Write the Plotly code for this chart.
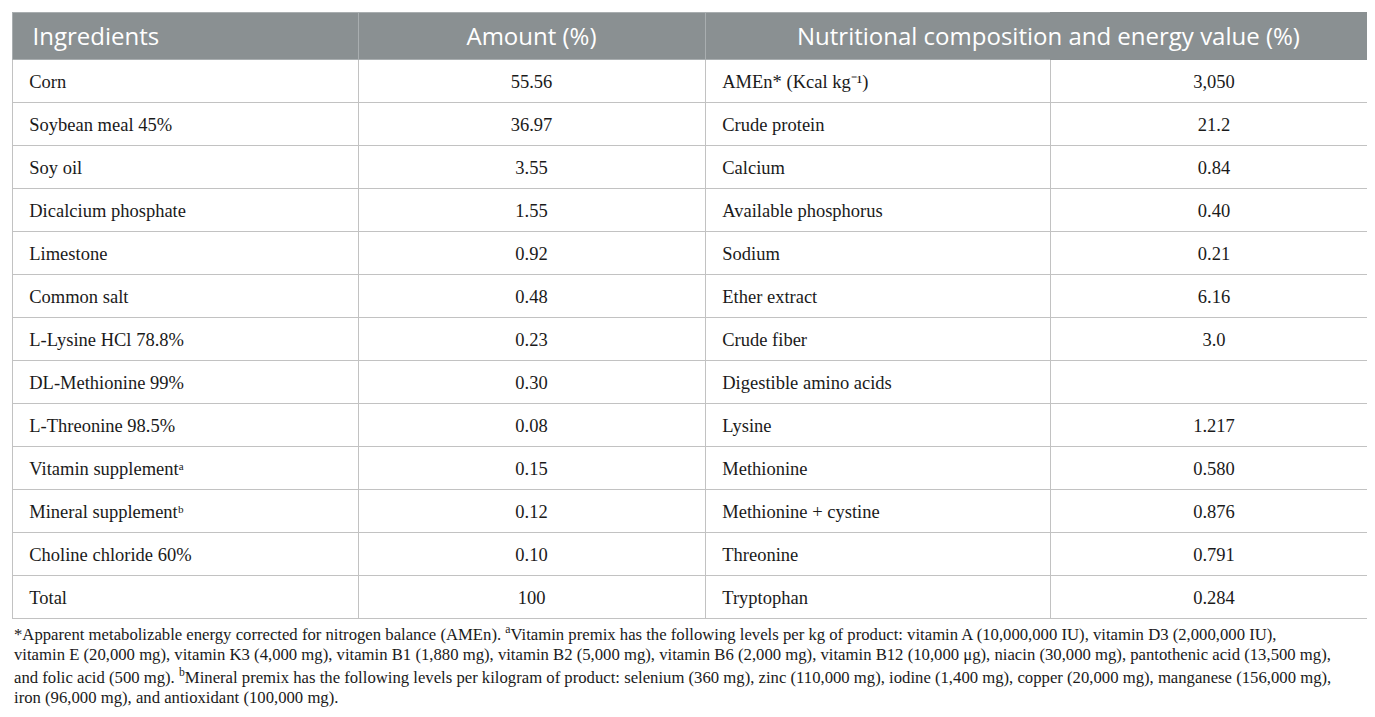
import plotly.graph_objects as go

# Table content (unicode superscripts keep the cell baselines level)
ingredients = ["Corn", "Soybean meal 45%", "Soy oil", "Dicalcium phosphate", "Limestone",
               "Common salt", "L-Lysine HCl 78.8%", "DL-Methionine 99%", "L-Threonine 98.5%",
               "Vitamin supplement\u1d43", "Mineral supplement\u1d47",
               "Choline chloride 60%", "Total"]
amounts = ["55.56", "36.97", "3.55", "1.55", "0.92", "0.48", "0.23", "0.30", "0.08",
           "0.15", "0.12", "0.10", "100"]
nutrients = ["AMEn* (Kcal kg\u207b\u00b9)", "Crude protein", "Calcium", "Available phosphorus",
             "Sodium", "Ether extract", "Crude fiber", "Digestible amino acids", "Lysine",
             "Methionine", "Methionine + cystine", "Threonine", "Tryptophan"]
nutrient_values = ["3,050", "21.2", "0.84", "0.40", "0.21", "6.16", "3.0", "", "1.217",
                   "0.580", "0.876", "0.791", "0.284"]
headers = ["Ingredients", "Amount (%)", "Nutritional composition and energy value (%)"]

footnote_lines = [
    "*Apparent metabolizable energy corrected for nitrogen balance (AMEn). <sup>a</sup>Vitamin premix has the following levels per kg of product: vitamin A (10,000,000 IU), vitamin D3 (2,000,000 IU),",
    "vitamin E (20,000 mg), vitamin K3 (4,000 mg), vitamin B1 (1,880 mg), vitamin B2 (5,000 mg), vitamin B6 (2,000 mg), vitamin B12 (10,000 \u03bcg), niacin (30,000 mg), pantothenic acid (13,500 mg),",
    "and folic acid (500 mg). <sup>b</sup>Mineral premix has the following levels per kilogram of product: selenium (360 mg), zinc (110,000 mg), iodine (1,400 mg), copper (20,000 mg), manganese (156,000 mg),",
    "iron (96,000 mg), and antioxidant (100,000 mg).",
]

W, H = 1375, 717
left, right = 4, 1370
top, bottom = 4, 611
text_shift = 7          # plotly puts cell text near the top; push it to the middle
col_widths = [346, 347, 345, 328]

HEAD_GRAY = "#8a9092"
HEAD_LINE = "#a9aeb0"
LINE_GRAY = "#c2c2c2"
TEXT = "#1a1a1a"
CLEAR = "rgba(0,0,0,0)"
pad = "\u00a0\u00a0"
n = len(ingredients)

fig = go.Figure()

# grid: fills and borders only
fig.add_trace(go.Table(
    domain=dict(x=[left / W, right / W], y=[1 - bottom / H, 1 - top / H]),
    columnwidth=col_widths,
    header=dict(
        values=[""] * 4,
        fill_color=HEAD_GRAY,
        line=dict(color=[HEAD_LINE, HEAD_LINE, HEAD_LINE, HEAD_GRAY], width=1),
        height=47,
    ),
    cells=dict(
        values=[[""] * n] * 4,
        fill_color="white",
        line=dict(color=LINE_GRAY, width=1),
        height=43,
    ),
))

# text layer
fig.add_trace(go.Table(
    domain=dict(x=[left / W, right / W], y=[1 - (bottom + text_shift) / H, 1 - (top + text_shift) / H]),
    columnwidth=col_widths,
    header=dict(
        values=[pad + headers[0], headers[1], "", ""],
        align=["left", "center", "center", "center"],
        fill_color=CLEAR,
        line=dict(color=CLEAR, width=0),
        font=dict(family="Open Sans", size=24, color="white"),
        height=47,
    ),
    cells=dict(
        values=[[pad + s for s in ingredients], amounts,
                [pad + s for s in nutrients], nutrient_values],
        align=["left", "center", "left", "center"],
        fill_color=CLEAR,
        line=dict(color=CLEAR, width=0),
        font=dict(family="Liberation Serif", size=18.5, color=TEXT),
        height=43,
    ),
))

# merged header over the last two columns
fig.add_annotation(
    text=headers[2], xref="paper", yref="paper",
    x=1040 / W, y=1 - 28 / H, xanchor="center", yanchor="middle", showarrow=False,
    font=dict(family="Open Sans", size=24, color="white"),
)

for i, line in enumerate(footnote_lines):
    fig.add_annotation(
        text=line, xref="paper", yref="paper",
        x=left / W, y=1 - (625 + i * 21.5) / H,
        xanchor="left", yanchor="middle", showarrow=False,
        font=dict(family="Liberation Serif", size=16.7, color=TEXT),
    )

fig.update_layout(
    width=W, height=H,
    margin=dict(l=0, r=0, t=0, b=0),
    paper_bgcolor="white",
)

fig.write_html("out.html")
